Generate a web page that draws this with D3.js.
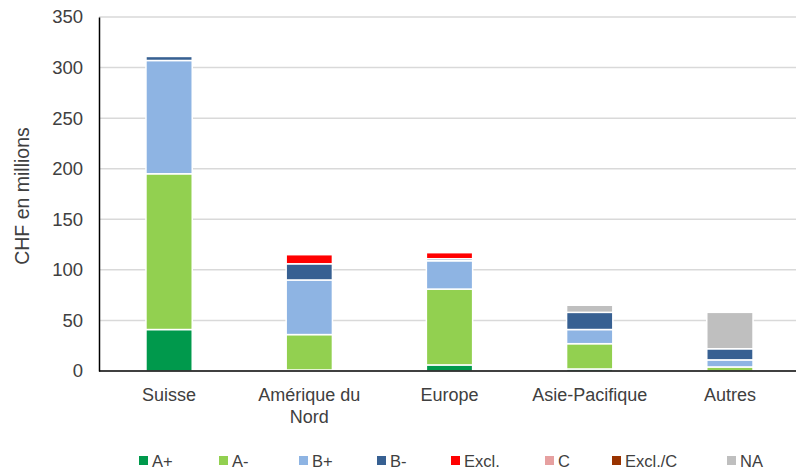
<!DOCTYPE html>
<html><head><meta charset="utf-8">
<script src="https://cdn.jsdelivr.net/npm/d3@7"></script>
<style>body{margin:0;background:#fff}svg{display:block}text{font-family:"Liberation Sans","Arial",sans-serif;fill:#404040}</style>
</head><body><svg id="c" width="796" height="470"></svg>
<script>
const categories = ["Suisse", "Amérique du\nNord", "Europe", "Asie-Pacifique", "Autres"];
const seriesNames = ["A+", "A-", "B+", "B-", "Excl.", "C", "Excl./C", "NA"];
const seriesColors = ["#00994C", "#92D050", "#8EB4E3", "#376092", "#FF0000", "#E6A0A0", "#993300", "#BFBFBF"];
const vAplus  = [41, 1, 6, 2, 0];
const vAminus = [154, 35, 75, 25, 4];
const vBplus  = [112, 54, 28, 14, 7];
const vBminus = [4, 16, 2, 17, 11];
const vExcl   = [0, 9, 6, 0, 0];
const vC      = [0, 0, 0, 0, 0];
const vExclC  = [0, 0, 0, 0, 0];
const vNA     = [0, 0, 0, 7, 36];
const yTicks = [0, 50, 100, 150, 200, 250, 300, 350];
const yLabel = "CHF en millions";

(function () {
const seriesValues = [vAplus, vAminus, vBplus, vBminus, vExcl, vC, vExclC, vNA];
const data = categories.map((c, i) => {
  const o = {cat: c};
  seriesNames.forEach((s, j) => o[s] = seriesValues[j][i]);
  return o;
});

const svg = d3.select("#c");
const mLeft = 99, mRight = 800, mTop = 17, mBottom = 371;
const x = d3.scaleBand().domain(categories).range([mLeft, mRight]).paddingInner(0.67).paddingOuter(0.335);
const y = d3.scaleLinear().domain([0, 350]).range([mBottom, mTop]);

// gridlines
svg.append("g").selectAll("line").data(yTicks.filter(d => d > 0)).join("line")
  .attr("x1", mLeft).attr("x2", 796).attr("y1", d => y(d)).attr("y2", d => y(d))
  .attr("stroke", "#D9D9D9").attr("stroke-width", 1.5);

// stacks
const stack = d3.stack().keys(seriesNames)(data);
svg.append("g").selectAll("g").data(stack).join("g")
  .attr("fill", (d, i) => seriesColors[i])
  .selectAll("rect").data(d => d).join("rect")
  .attr("x", d => x(d.data.cat)).attr("width", x.bandwidth())
  .attr("y", d => y(d[1])).attr("height", d => Math.max(0, y(d[0]) - y(d[1])))
  .attr("stroke", "#fff").attr("stroke-width", 1.5)
  .style("display", d => d[1] - d[0] > 0 ? null : "none");

// y axis
const yAxis = d3.axisLeft(y).tickValues(yTicks).tickSize(0).tickPadding(16);
const gy = svg.append("g").attr("transform", `translate(${mLeft},0)`).call(yAxis);
gy.select(".domain").attr("stroke", "#000").attr("stroke-width", 1.5);
gy.selectAll("text").style("font-size", "18.5px").attr("fill", "#404040");

// x axis
const gx = svg.append("g").attr("transform", `translate(0,${mBottom})`)
  .call(d3.axisBottom(x).tickSize(0).tickFormat(""));
gx.select(".domain").attr("d", `M${mLeft},0H796`).attr("stroke", "#000").attr("stroke-width", 1.5);
gx.selectAll(".tick").each(function(d) {
  const t = d3.select(this).append("text").attr("text-anchor", "middle").style("font-size", "18px").attr("fill", "#404040");
  d.split("\n").forEach((line, k) => t.append("tspan").attr("x", 0).attr("y", 30 + k * 22).text(line));
});

// y label
svg.append("text").attr("transform", `translate(29,${(mTop + mBottom) / 2 + 2}) rotate(-90)`)
  .attr("text-anchor", "middle").style("font-size", "19.5px").text(yLabel);

// legend
const legX = [139, 219, 299, 377, 451, 545, 612, 727];
const leg = svg.append("g").selectAll("g").data(seriesNames).join("g")
  .attr("transform", (d, i) => `translate(${legX[i]},461)`);
leg.append("rect").attr("x", 0).attr("y", -5).attr("width", 9).attr("height", 9).attr("fill", (d, i) => seriesColors[i]);
leg.append("text").attr("x", 13).attr("y", 6).style("font-size", "16.5px").text(d => d);
})();
</script></body></html>
